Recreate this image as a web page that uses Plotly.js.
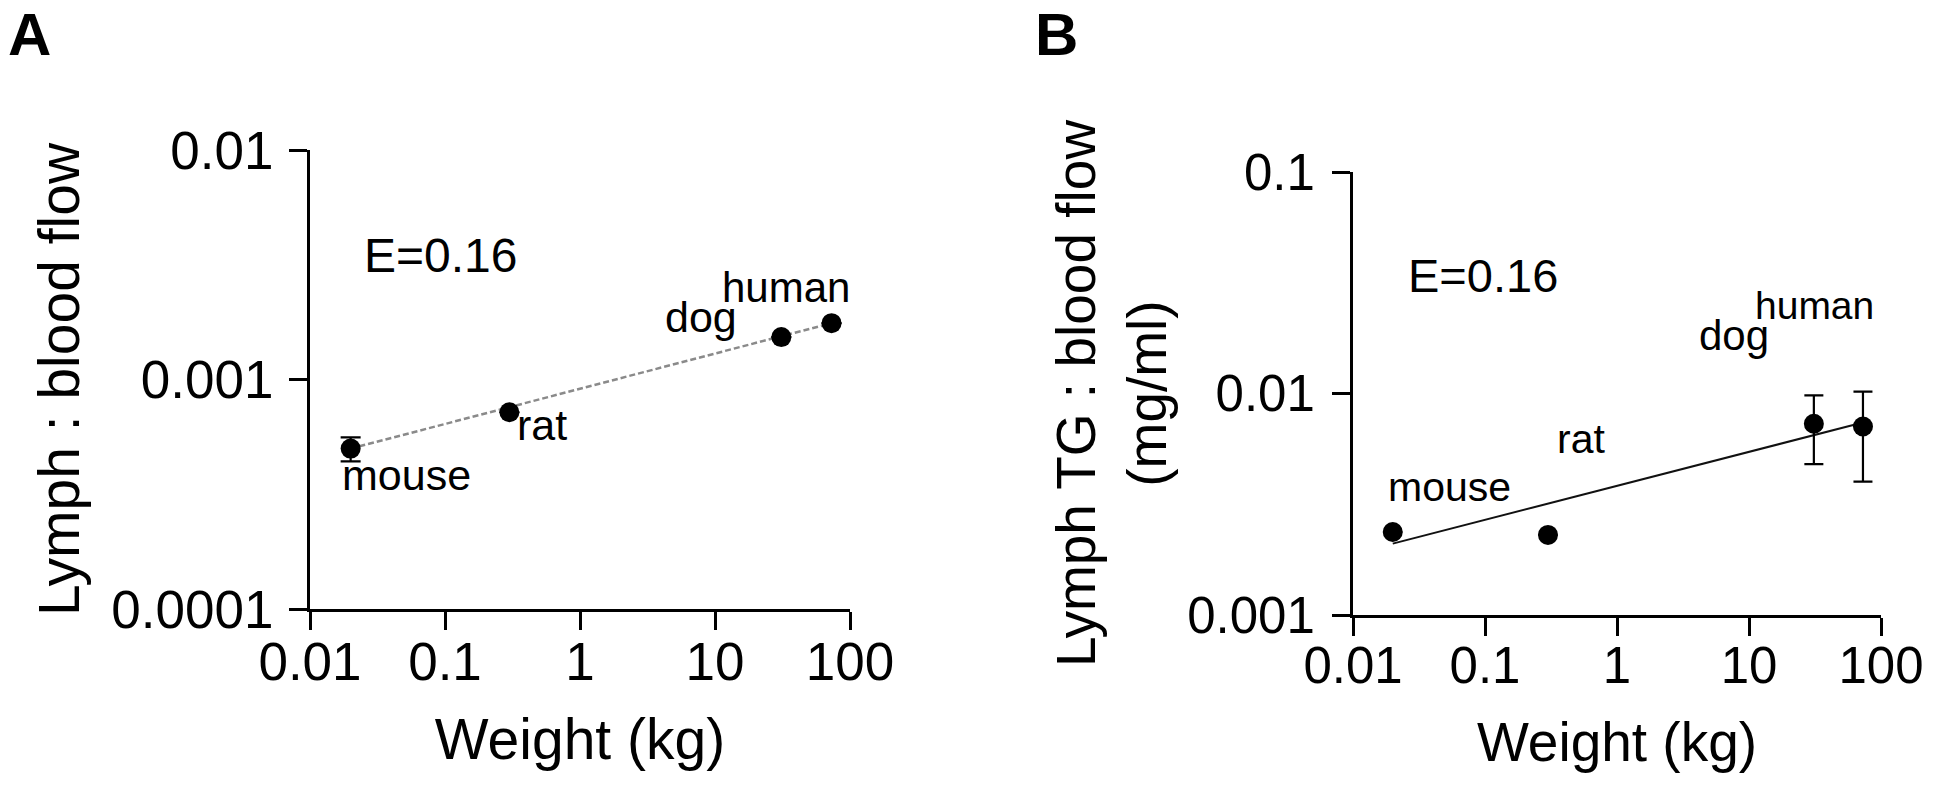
<!DOCTYPE html>
<html>
<head>
<meta charset="utf-8">
<script src="https://cdn.plot.ly/plotly-3.0.1.min.js"></script>
<style>
    html, body {margin: 0; padding: 0; background: #fff;}
    #chart {width: 1946px; height: 795px;}
</style>
</head>
<body>
<div id="chart"></div>
<script>
// values
const species = ["mouse", "rat", "dog", "human"];
const weight_kg = [0.02, 0.3, 31, 73];

// panel A: lymph : blood flow
const flow_ratio = [0.0005, 0.00072, 0.00153, 0.00176];
const flow_ratio_err = [0.00006, 0, 0, 0];

// panel B: lymph TG : blood flow (mg/ml)
const tg_ratio = [0.00237, 0.0023, 0.0073, 0.0071];
const tg_ratio_err = [0, 0, 0.0025, 0.0031];

// fitted power lines (end points)
const fit_weight = [0.02, 73];
const fit_flow = [0.0005, 0.00176];
const fit_tg = [0.0021, 0.0074];

const x_ticks = [0.01, 0.1, 1, 10, 100];
const x_tick_text = ["0.01", "0.1", "1", "10", "100"];
const flow_ticks = [0.0001, 0.001, 0.01];
const flow_tick_text = ["0.0001", "0.001", "0.01"];
const tg_ticks = [0.001, 0.01, 0.1];
const tg_tick_text = ["0.001", "0.01", "0.1"];
const exponent_text = "E=0.16";

const W = 1946, H = 795;
const FONT = "Arial, 'Liberation Sans', Helvetica, sans-serif";
const px = x => x / W;
const py = y => 1 - y / H;

const log_axis = (domain, range, tickvals, ticktext, size, label_gap, title, title_size, standoff) => ({
    type: 'log',
    domain: domain,
    range: range,
    tickmode: 'array',
    tickvals: tickvals,
    ticktext: ticktext,
    showline: true, linecolor: '#000', linewidth: 3,
    ticks: 'outside', ticklen: 18, tickwidth: 3, tickcolor: '#000',
    ticklabelstandoff: label_gap,
    showgrid: false, zeroline: false,
    tickfont: {family: FONT, size: size, color: '#000'},
    title: {text: title, font: {family: FONT, size: title_size, color: '#000'}, standoff: standoff},
    automargin: false,
    fixedrange: true
});

// text label placed by its left edge and baseline (pixels)
const label = (text, left, baseline, size, bold) => ({
    xref: 'paper', yref: 'paper',
    x: px(left), y: py(baseline - 0.35 * size),
    xanchor: 'left', yanchor: 'middle',
    showarrow: false,
    text: bold ? '<b>' + text + '</b>' : text,
    font: {family: FONT, size: size, color: '#000'}
});

const point_trace = (y, err, xa, ya, cap) => ({
    x: weight_kg, y: y, xaxis: xa, yaxis: ya,
    mode: 'markers', type: 'scatter',
    marker: {color: '#000', size: 20},
    error_y: {type: 'data', array: err, symmetric: true, color: '#000', thickness: 2.2, width: cap},
    hoverinfo: 'x+y', showlegend: false
});

const data = [
    {x: fit_weight, y: fit_flow, xaxis: 'x', yaxis: 'y', mode: 'lines', type: 'scatter',
        line: {color: '#8a8a8a', width: 2.5, dash: '6px,3px'}, hoverinfo: 'skip', showlegend: false},
    point_trace(flow_ratio, flow_ratio_err, 'x', 'y', 10),
    {x: fit_weight, y: fit_tg, xaxis: 'x2', yaxis: 'y2', mode: 'lines', type: 'scatter',
        line: {color: '#111', width: 2}, hoverinfo: 'skip', showlegend: false},
    point_trace(tg_ratio, tg_ratio_err, 'x2', 'y2', 9.5)
];

const layout = {
    width: W, height: H,
    margin: {l: 0, r: 0, t: 0, b: 0},
    paper_bgcolor: '#fff', plot_bgcolor: 'rgba(0,0,0,0)',
    showlegend: false,
    xaxis: Object.assign(log_axis([px(310), px(850)], [-2, 2], x_ticks, x_tick_text, 53, -14, 'Weight (kg)', 57, 30), {anchor: 'y'}),
    yaxis: Object.assign(log_axis([py(609), py(150)], [-4, -2], flow_ticks, flow_tick_text, 53, 5, 'Lymph : blood flow', 57, 14), {anchor: 'x'}),
    xaxis2: Object.assign(log_axis([px(1353), px(1881)], [-2, 2], x_ticks, x_tick_text, 51, -14, 'Weight (kg)', 55, 30), {anchor: 'y2'}),
    yaxis2: Object.assign(log_axis([py(615), py(172)], [-3, -1], tg_ticks, tg_tick_text, 51, 7, 'Lymph TG : blood flow<br>(mg/ml)', 55, 3), {anchor: 'x2'}),
    annotations: [
        label('A', 6, 56, 60, true),
        label('B', 1033, 56, 60, true),
        label(exponent_text, 362, 272, 48),
        label(species[0], 340, 490, 43),
        label(species[1], 515, 440, 43),
        label(species[2], 663, 332, 43),
        label(species[3], 720, 302, 42),
        label(exponent_text, 1406, 292, 47),
        label(species[0], 1386, 501, 41),
        label(species[1], 1555, 453, 41),
        label(species[2], 1697, 350, 42),
        label(species[3], 1753, 319, 39)
    ]
};

Plotly.newPlot('chart', data, layout, {staticPlot: true, displayModeBar: false});
</script>
</body>
</html>
